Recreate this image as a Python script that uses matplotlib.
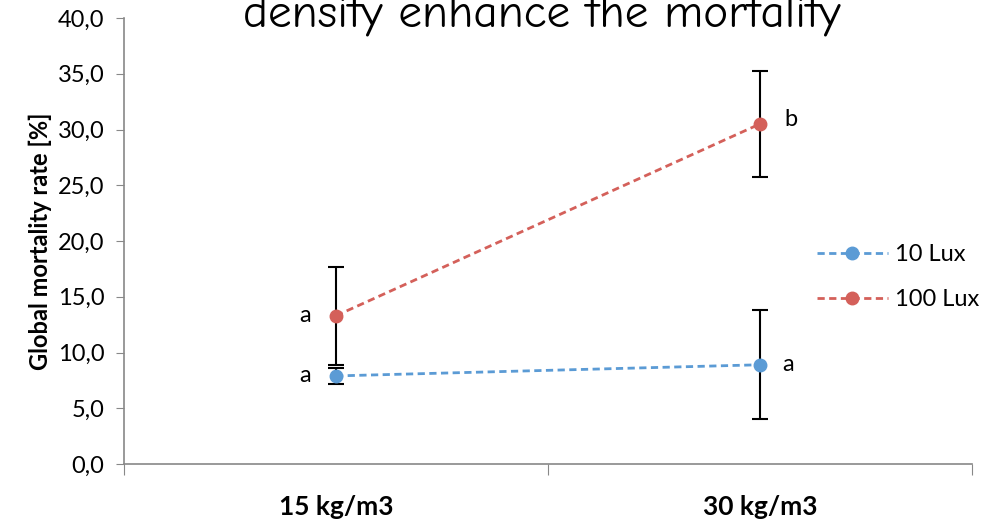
import matplotlib.pyplot as plt
from matplotlib.lines import Line2D
import numpy as np

# mortality by stocking density and light intensity
densities = ['15 kg/m3', '30 kg/m3']
lux_10 = [7.9, 8.9]
lux_10_err = [0.7, 4.9]
lux_100 = [13.3, 30.5]
lux_100_err = [4.4, 4.75]
letters_10 = ['a', 'a']
letters_100 = ['a', 'b']

blue = '#5B9BD5'
red = '#D4605A'
axis_grey = '#888888'

plt.rcParams['font.family'] = ['Lato', 'DejaVu Sans']

fig = plt.figure(figsize=(9.94, 5.22), dpi=100)
ax = fig.add_axes([124 / 994, 58 / 522, 848 / 994, 446 / 522])

x = np.arange(len(densities)) + 0.5

style = dict(ls='--', lw=2, marker='o', ms=9, dashes=(2.6, 1.6))
ax.errorbar(x, lux_10, yerr=lux_10_err, color=blue, ecolor='black',
            elinewidth=1.5, capsize=5.5, capthick=1.5, zorder=3, **style)
ax.errorbar(x, lux_100, yerr=lux_100_err, color=red, ecolor='black',
            elinewidth=1.5, capsize=5.5, capthick=1.5, zorder=3, **style)

# significance letters
offsets_10 = [(-22, 0), (20, 0)]
offsets_100 = [(-22, 0), (22, 3)]
for xi, yi, t, off in zip(x, lux_10, letters_10, offsets_10):
    ax.annotate(t, (xi, yi), xytext=off, textcoords='offset points',
                ha='center', va='center', fontsize=17)
for xi, yi, t, off in zip(x, lux_100, letters_100, offsets_100):
    ax.annotate(t, (xi, yi), xytext=off, textcoords='offset points',
                ha='center', va='center', fontsize=17)

ax.set_xlim(0, 2)
ax.set_ylim(0, 40)
ax.set_yticks(np.arange(0, 41, 5))
ax.set_yticklabels([f'{v:.1f}'.replace('.', ',') for v in np.arange(0, 41, 5)])
ax.set_xticks([0, 1, 2])
ax.set_xticklabels([])
ax.set_xticks(x, minor=True)
ax.set_xticklabels(densities, minor=True, fontsize=19, fontweight='bold')
ax.tick_params(axis='x', which='minor', length=0, pad=22)
ax.tick_params(axis='x', which='major', length=8, color=axis_grey, direction='out')
ax.tick_params(axis='y', length=6, color=axis_grey, labelsize=17, pad=8)

for s in ['top', 'right']:
    ax.spines[s].set_visible(False)
for s in ['left', 'bottom']:
    ax.spines[s].set_color(axis_grey)
    ax.spines[s].set_linewidth(1.2)

ax.set_ylabel('Global mortality rate [%]', fontsize=17, fontweight='bold', labelpad=4)

handles = [Line2D([], [], color=blue, **style), Line2D([], [], color=red, **style)]
ax.legend(handles, ['10 Lux', '100 Lux'], loc='upper left',
          bbox_to_anchor=(0.792, 0.54), frameon=False, fontsize=17,
          handlelength=3.0, labelspacing=1.0, handletextpad=0.3)

fig.text(0.545, 0.950, 'density enhance the mortality', ha='center',
         va='baseline', fontsize=34, family=['Comic Neue', 'Open Sans', 'DejaVu Sans'])

fig.savefig('out.png', dpi=100)
